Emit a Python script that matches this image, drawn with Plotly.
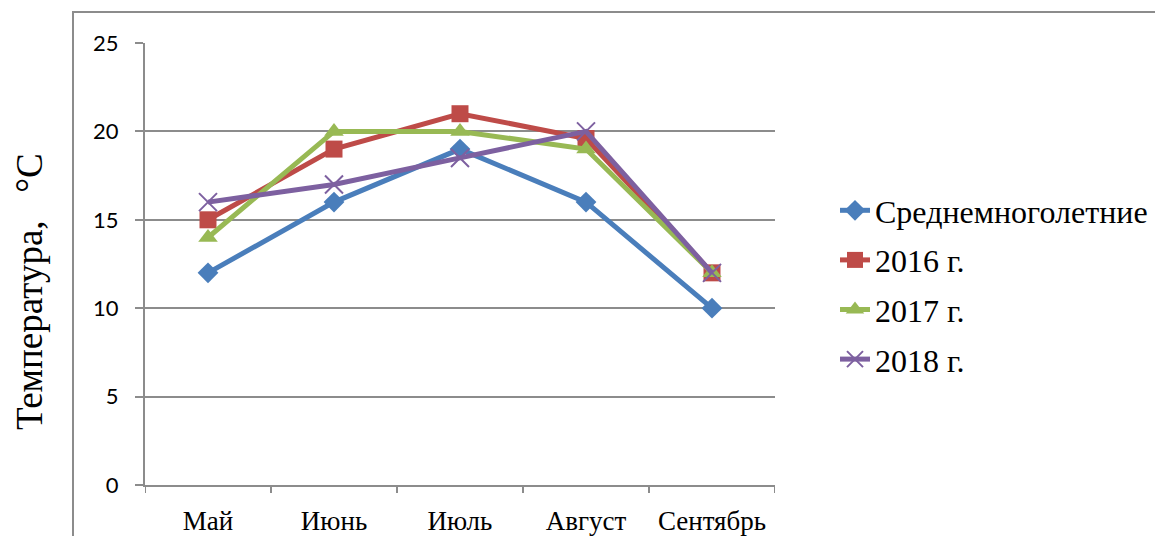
import plotly.graph_objects as go

months = ["Май", "Июнь", "Июль", "Август", "Сентябрь"]
series_names = ["Среднемноголетние", "2016 г.", "2017 г.", "2018 г."]
avg_vals = [12, 16, 19, 16, 10]
y2016 = [15, 19, 21, 19.6, 12]
y2017 = [14, 20, 20, 19, 12]
y2018 = [16, 17, 18.5, 20, 12]
y_ticks = [0, 5, 10, 15, 20, 25]

colors = ["#4A7EBB", "#BE4B48", "#98B954", "#7D60A0"]
symbols = ["diamond", "square", "triangle-up", "x-thin-open"]
sizes = [16, 17, 17, 18]

fig = go.Figure()
for name, vals, c, s, sz in zip(series_names, [avg_vals, y2016, y2017, y2018], colors, symbols, sizes):
    marker = dict(symbol=s, size=sz, color=c)
    if s == "x-thin-open":
        marker["line"] = dict(color=c, width=2)
    fig.add_trace(go.Scatter(x=months, y=vals, name=name, mode="lines+markers",
                             line=dict(color=c, width=5), marker=marker,
                             legendgroup=name))

# page has an 8px body margin; figure coords = page coords - 8
OFF = 8
W, H = 1163 - OFF, 544 - 16
L, R, T, B = 145 - OFF, 775 - OFF, 43 - OFF, 485 - OFF
pw, ph = R - L, B - T

def px_x(x):
    return (x - OFF - L) / pw

def px_y(y):
    return (B - (y - OFF)) / ph

fig.update_layout(
    width=W, height=H,
    margin=dict(l=L, r=W - R, t=T, b=H - B, pad=0, autoexpand=False),
    paper_bgcolor="white", plot_bgcolor="white",
    showlegend=True,
    legend=dict(x=px_x(835), y=px_y(183), xanchor="left", yanchor="top",
                font=dict(family="Liberation Serif", size=32, color="black"),
                traceorder="grouped", tracegroupgap=5, itemwidth=30,
                bgcolor="rgba(0,0,0,0)"),
    xaxis=dict(type="category", range=[-0.5, 4.5], showgrid=False, automargin=False,
               showline=True, linecolor="#8c8c8c", linewidth=2,
               ticks="", tickfont=dict(family="Liberation Serif", size=27, color="black"),
               ticklabelstandoff=11, zeroline=False, fixedrange=True),
    yaxis=dict(range=[0, 25], tickvals=y_ticks, showgrid=True, gridcolor="#8c8c8c", gridwidth=2,
               showline=True, linecolor="#8c8c8c", linewidth=2, ticks="outside", ticklen=8,
               tickcolor="#8c8c8c", tickwidth=2, ticklabelstandoff=12, automargin=False,
               tickfont=dict(family="Lato", size=22, color="black"), zeroline=False, fixedrange=True),
)

shapes = []
for i in range(6):
    xb = -0.5 + i
    shapes.append(dict(type="line", xref="x", yref="paper", x0=xb, x1=xb,
                       y0=0, y1=px_y(485 + 8), line=dict(color="#8c8c8c", width=2)))
shapes.append(dict(type="rect", xref="paper", yref="paper",
                   x0=px_x(73), x1=px_x(1190), y0=px_y(580), y1=px_y(12),
                   line=dict(color="#8c8c8c", width=2), fillcolor="rgba(0,0,0,0)", layer="below"))
fig.update_layout(shapes=shapes)

fig.add_annotation(text="Температура,\u00a0\u00a0\u00a0°С", xref="paper", yref="paper",
                   x=px_x(29), y=px_y(291), textangle=-90, showarrow=False,
                   font=dict(family="Liberation Serif", size=37, color="black"),
                   xanchor="center", yanchor="middle")

fig.write_html("out.html")
